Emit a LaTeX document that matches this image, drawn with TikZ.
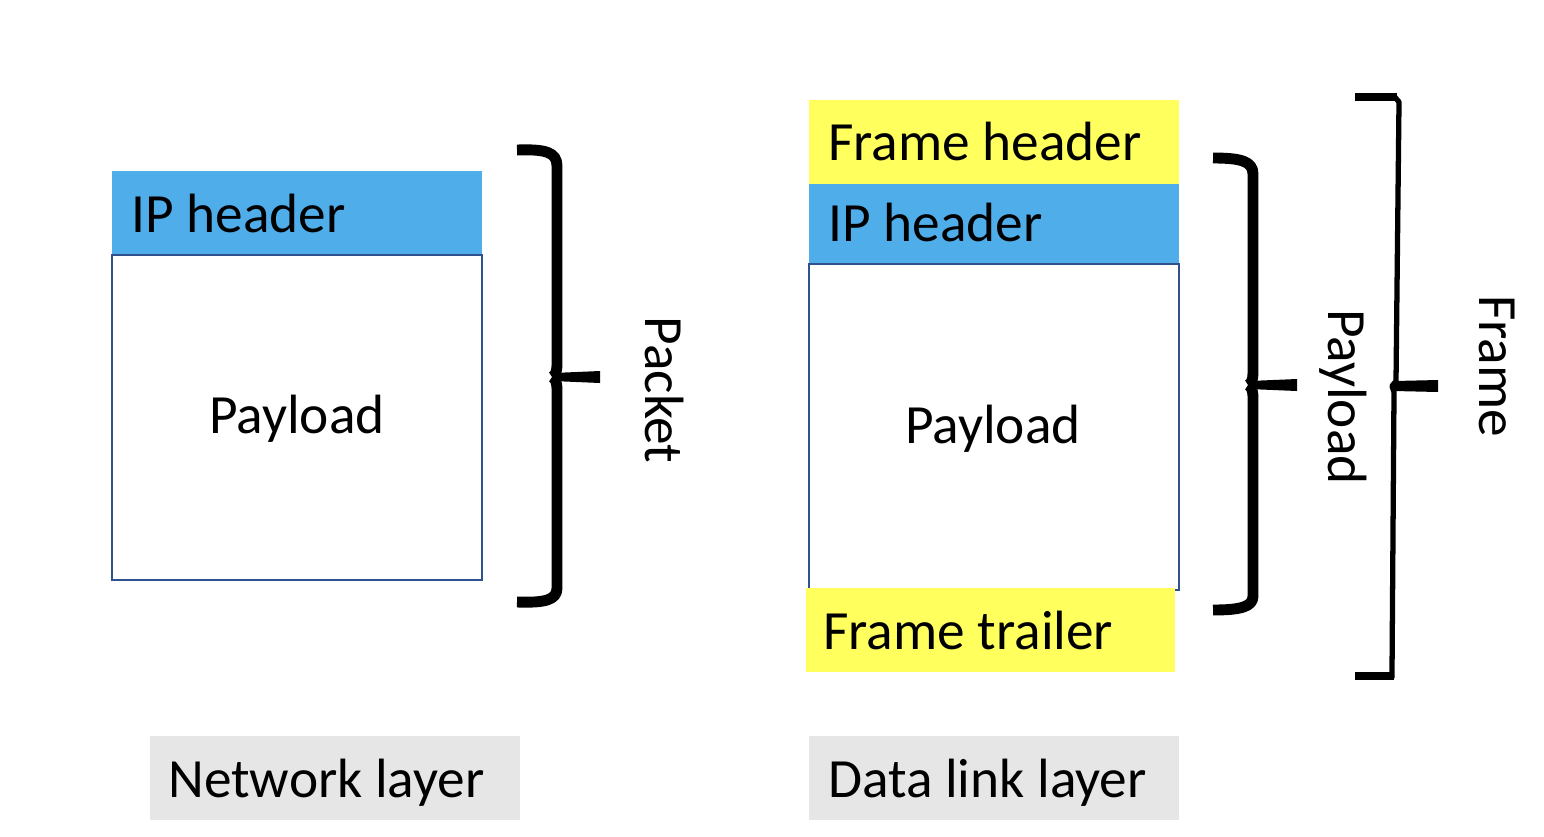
\documentclass[tikz,border=0pt]{standalone}
\usepackage{fontspec}
\setmainfont{Carlito}
\definecolor{ipblue}{RGB}{79,173,234}
\definecolor{frameyellow}{RGB}{255,255,94}
\definecolor{boxline}{RGB}{47,82,143}
\definecolor{labelgray}{RGB}{231,230,230}
\tikzset{
  lbl/.style={font=\fontsize{31.5}{36}\selectfont, inner sep=0pt, anchor=base west},
  vlbl/.style={font=\fontsize{31.5}{36}\selectfont, inner sep=0pt, rotate=-90, anchor=center},
  thickbrace/.style={line width=6.2pt, line cap=butt, line join=round},
  endbrace/.style={line width=5pt, line cap=butt},
  thinbrace/.style={line width=3pt, line cap=butt, line join=round},
}
\begin{document}
\begin{tikzpicture}[x=0.02cm, y=-0.02cm]
\useasboundingbox (0,0) rectangle (1544,836);
% ---------- Network layer ----------
\fill[ipblue] (112,171) rectangle (482,254);
\draw[boxline, line width=1.1pt] (112,255) rectangle (482,580);
\node[lbl] (iph1) at (131,232) {IP header};
\node[font=\fontsize{31.5}{36}\selectfont, inner sep=0pt] (pay1) at (297,419) {Payload};
% Packet brace
\coordinate (pb1) at (517,150);
\coordinate (pb2) at (517,602);
\draw[thickbrace] (pb1) .. controls (545,149) and (557,152) .. (557,166) -- (557,364)
  .. controls (557,372) and (555,376) .. (552,377);
\draw[thickbrace] (pb2) .. controls (545,603) and (557,600) .. (557,588) -- (557,390)
  .. controls (557,382) and (555,378) .. (552,377);
\fill (553,373) -- (600,371) -- (600,383) -- (553,381) -- cycle;
\node[vlbl] (packet) at (665,390) {Packet};
% ---------- Data link layer ----------
\fill[frameyellow] (809,100) rectangle (1179,184);
\fill[ipblue] (809,184) rectangle (1179,264);
\draw[boxline, line width=1.1pt] (809,264) rectangle (1179,590);
\fill[frameyellow] (806,588) rectangle (1175,672);
\node[lbl] (fh) at (828,160) {Frame header};
\node[lbl] (iph2) at (828,241) {IP header};
\node[font=\fontsize{31.5}{36}\selectfont, inner sep=0pt] (pay2) at (993,429) {Payload};
\node[lbl] (ft) at (823,649) {Frame trailer};
% Payload brace
\coordinate (yb1) at (1213,158);
\coordinate (yb2) at (1213,610);
\draw[thickbrace] (yb1) .. controls (1240,158) and (1253,161) .. (1253,174) -- (1253,373)
  .. controls (1253,380) and (1251,384) .. (1248,385);
\draw[thickbrace] (yb2) .. controls (1240,610) and (1253,607) .. (1253,596) -- (1253,398)
  .. controls (1253,390) and (1251,386) .. (1248,385);
\fill (1249,381) -- (1297,379) -- (1297,391) -- (1249,389) -- cycle;
\node[vlbl] (paylbl) at (1343,397) {Payload};
% Frame brace
\coordinate (fb1) at (1355,97);
\coordinate (fb2) at (1355,676);
\draw[endbrace] (fb1) -- (1397,97);
\draw[thinbrace] (1394,96) -- (1399,102) -- (1396,381) -- (1392,386) -- (1394,392) -- (1392,672) -- (1392,678);
\draw[endbrace] (fb2) -- (1394,676);
\fill (1394,381) -- (1438,380) -- (1438,392) -- (1394,391) -- cycle;
\node[vlbl] (framelbl) at (1497,366) {Frame};
% ---------- Layer labels ----------
\fill[labelgray] (150,736) rectangle (520,820);
\fill[labelgray] (809,736) rectangle (1179,820);
\node[lbl] (net) at (168,797) {Network layer};
\node[lbl] (dl) at (828,797) {Data link layer};
\end{tikzpicture}
\end{document}
